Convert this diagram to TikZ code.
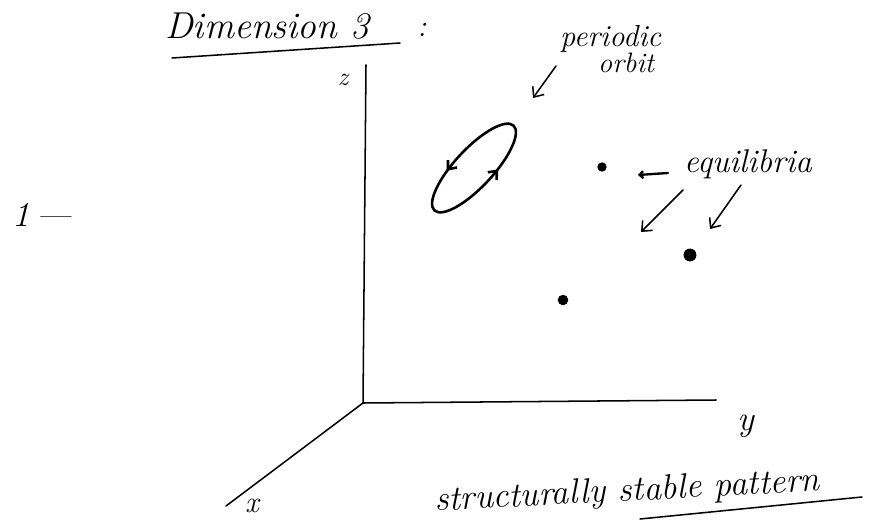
\documentclass[tikz,border=0pt]{standalone}
\usetikzlibrary{decorations.markings,arrows.meta}
\begin{document}
\begin{tikzpicture}[x=0.03cm,y=-0.03cm, line cap=round,
  hand/.style={font=\fontsize{#1}{#1}\selectfont\itshape, inner sep=0pt},
  hand/.default=26,
  pen/.style={line width=1.3pt},
  barb/.style={-{Straight Barb[length=7pt,width=12pt]}},
  dot/.style={circle, fill, inner sep=0pt, minimum size=#1}]
\useasboundingbox (0,0) rectangle (885,528);
% title
\node[hand=32, anchor=base west] (title) at (165,38) {Dimension 3};
\node[hand=26] (colon) at (422,30) {:};
\draw[pen] (172,58) -- (400,43);
% axes
\coordinate (O) at (363,403);
\coordinate (ztop) at (366,65);
\coordinate (yend) at (716,400);
\coordinate (xend) at (226,506);
\draw[pen] (ztop) -- (O) -- (yend);
\draw[pen] (O) -- (xend);
\node[hand=22] (zlab) at (343,80) {z};
\node[hand=30] (ylab) at (746,426) {y};
\node[hand=26] (xlab) at (252,506) {x};
% left mark
\node[hand=30] (one) at (42,215) {1\,---};
% periodic orbit
\node[hand=26, anchor=base west] (per) at (560,46) {periodic};
\node[hand=24, anchor=base west] (orb) at (598,72) {orbit};
\coordinate (perA) at (556,66);
\coordinate (perB) at (533,98);
\draw[pen, barb] (perA) -- (perB);
\draw[line width=2.2pt, rotate around={47:(474,168)},
  postaction={decorate}, decoration={markings,
    mark=at position 0.23 with {\arrow{Straight Barb[length=6pt,width=10pt,reversed]}},
    mark=at position 0.71 with {\arrow{Straight Barb[length=6pt,width=10pt,reversed]}}}]
  (474,168) ellipse (58 and 19);
% equilibria
\node[dot=8pt] (eqA) at (602,167) {};
\node[dot=11pt] (eqB) at (690,255) {};
\node[dot=9pt] (eqC) at (563,300) {};
\node[hand=28, anchor=base west] (equ) at (684,172) {equilibria};
\coordinate (eqarrA) at (668,173);
\coordinate (eqarrB) at (638,175);
\draw[line width=2pt, -{Straight Barb[length=3pt,width=6pt]}] (eqarrA) -- (eqarrB);
\coordinate (eqarrC) at (683,190);
\coordinate (eqarrD) at (641,232);
\draw[pen, barb] (eqarrC) -- (eqarrD);
\coordinate (eqarrE) at (741,185);
\coordinate (eqarrF) at (710,229);
\draw[pen, barb] (eqarrE) -- (eqarrF);
% bottom caption
\node[hand=30, anchor=base west, rotate=3] (cap) at (435,511) {structurally stable pattern};
\draw[pen] (640,519) -- (862,497);
\end{tikzpicture}
\end{document}
